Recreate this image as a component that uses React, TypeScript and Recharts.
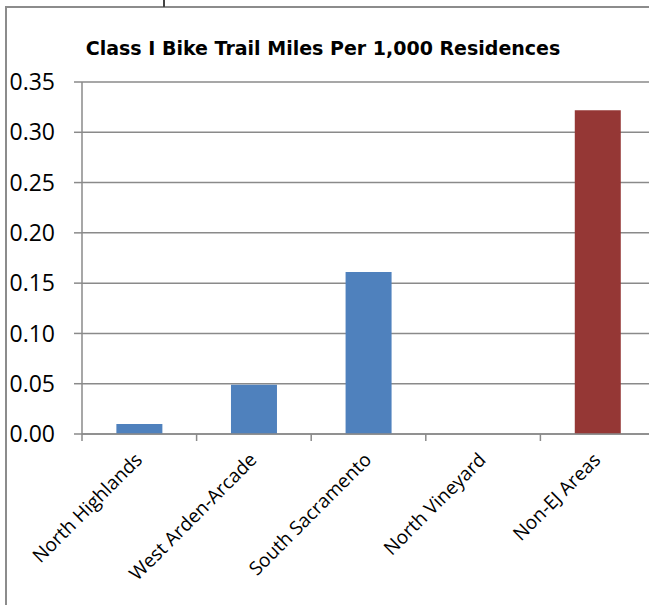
import React from 'react';
import { BarChart, Bar, XAxis, YAxis, CartesianGrid, Cell } from 'recharts';

const categories = ['North Highlands', 'West Arden-Arcade', 'South Sacramento', 'North Vineyard', 'Non-EJ Areas'];
const milesPer1000 = [0.01, 0.049, 0.161, 0, 0.322];
const yTicks = [0, 0.05, 0.1, 0.15, 0.2, 0.25, 0.3, 0.35];
const comparisonCategory = 'Non-EJ Areas';

const data = categories.map((name, i) => ({ name, value: milesPer1000[i] }));

const FONT = '"Open Sans", "Liberation Sans", sans-serif';
const GRID = '#8a8a8a';

// Excel-style category axis: ticks between categories, labels rotated -45
const CategoryTick = (props: any) => {
  const { x, y, payload } = props;
  const half = payload?.offset ?? 57;
  const lx = x + 4;
  const ly = y + 27;
  return (
    <g>
      <line x1={x - half} y1={y} x2={x - half} y2={y + 7} stroke={GRID} strokeWidth={1.5} />
      <text
        x={lx}
        y={ly}
        transform={`rotate(-45, ${lx}, ${ly})`}
        textAnchor="end"
        fontSize={19}
        fontFamily={FONT}
        fill="#000"
      >
        {payload.value}
      </text>
    </g>
  );
};

export default function App() {
  return (
    <div style={{ position: 'fixed', left: 0, top: 0, width: 649, height: 605, overflow: 'hidden', background: '#fff' }}>
      {/* chart frame, cut off at right and bottom */}
      <div style={{ position: 'absolute', left: 5, top: 6, width: 700, height: 700, border: '2px solid #8c8c8c' }} />
      <div style={{ position: 'absolute', left: 163, top: 0, width: 2, height: 7, background: '#444' }} />
      <div
        style={{
          position: 'absolute',
          left: 0,
          top: 38,
          width: 646,
          textAlign: 'center',
          fontFamily: '"DejaVu Sans", sans-serif',
          fontWeight: 700,
          fontSize: 19,
          lineHeight: '20px',
          color: '#000',
        }}
      >
        Class I Bike Trail Miles Per 1,000 Residences
      </div>
      <div style={{ position: 'absolute', left: 0, top: 0 }}>
        <BarChart
          width={680}
          height={605}
          data={data}
          margin={{ top: 82, right: 25, bottom: 11, left: 8 }}
          barCategoryGap="30%"
        >
          <CartesianGrid vertical={false} stroke={GRID} strokeWidth={1.5} />
          <XAxis
            dataKey="name"
            interval={0}
            height={160}
            axisLine={{ stroke: GRID, strokeWidth: 1.5 }}
            tickLine={false}
            tickSize={0}
            tickMargin={0}
            tick={<CategoryTick />}
          />
          <YAxis
            width={74}
            domain={[0, 0.35]}
            ticks={yTicks}
            interval={0}
            tickFormatter={(v: number) => v.toFixed(2)}
            axisLine={{ stroke: GRID, strokeWidth: 1.5 }}
            tickLine={{ stroke: GRID, strokeWidth: 1.5 }}
            tickSize={8}
            tickMargin={19}
            tick={{ fill: '#000', fontSize: 23, fontFamily: FONT }}
          />
          <Bar dataKey="value" isAnimationActive={false}>
            {data.map((d) => (
              <Cell key={d.name} fill={d.name === comparisonCategory ? '#953735' : '#4f81bd'} />
            ))}
          </Bar>
        </BarChart>
      </div>
    </div>
  );
}
